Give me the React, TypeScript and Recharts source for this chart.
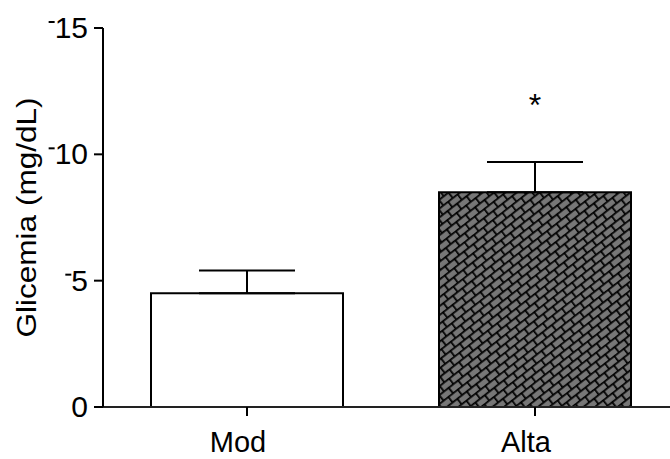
import { BarChart, Bar, XAxis, YAxis, ErrorBar, LabelList, Cell } from 'recharts'

const categories = ['Mod', 'Alta']
const means = [4.5, 8.5]
const sem = [0.9, 1.2]
const marks = ['', '*']
const yTicks = [0, 5, 10, 15]

const FONT = '"Liberation Sans", Arial, Helvetica, sans-serif'
const TICK_FS = 30

const data = categories.map((name, i) => ({
  name,
  value: means[i],
  err: [0, sem[i]],
  sig: marks[i],
}))

// GraphPad-style tick label with the little dash in front of it
function YTick({ x, y, payload }: any) {
  const label = String(payload.value)
  const end = x - 4
  const textW = label.length * 0.556 * TICK_FS
  return (
    <g>
      <text
        x={end}
        y={y + 10}
        textAnchor="end"
        style={{ fontSize: TICK_FS, fontFamily: FONT }}
        fill="#000"
      >
        {label}
      </text>
      {payload.value !== 0 && (
        <line x1={end - textW - 6} x2={end - textW} y1={y - 6} y2={y - 6} stroke="#000" strokeWidth={2} />
      )}
    </g>
  )
}

function XTick({ x, y, payload }: any) {
  return (
    <text x={x - 9} y={y + 34} textAnchor="middle" style={{ fontSize: 29, fontFamily: FONT }} fill="#000">
      {payload.value}
    </text>
  )
}

function YLabel({ viewBox }: any) {
  const cy = viewBox.y + viewBox.height / 2
  const cx = 27
  return (
    <text
      x={cx}
      y={cy}
      transform={`rotate(-90, ${cx}, ${cy})`}
      textAnchor="middle"
      dominantBaseline="central"
      style={{ fontSize: 27, fontFamily: FONT }}
      fill="#000"
      textLength={240}
      lengthAdjust="spacingAndGlyphs"
    >
      Glicemia (mg/dL)
    </text>
  )
}

function SigMark({ x, y, width, value }: any) {
  if (!value) return null
  return (
    <text x={x + width / 2} y={y - 76} textAnchor="middle" style={{ fontSize: 32, fontFamily: FONT }} fill="#000">
      {value}
    </text>
  )
}

export default function App() {
  return (
    <div style={{ position: 'absolute', left: 0, top: 0, width: 670, height: 459, overflow: 'hidden', background: '#fff' }}>
      <BarChart
        width={679}
        height={459}
        data={data}
        margin={{ top: 28, right: 0, left: 0, bottom: 0 }}
        barCategoryGap={48}
      >
        <defs>
          <pattern id="brick" width="12" height="14" patternUnits="userSpaceOnUse" patternTransform="rotate(-38)">
            <rect width="12" height="14" fill="#777" />
            <line x1="0" y1="0.8" x2="12" y2="0.8" stroke="#000" strokeWidth="1.8" />
            <line x1="0" y1="7.8" x2="12" y2="7.8" stroke="#000" strokeWidth="1.8" />
            <line x1="0.8" y1="0" x2="0.8" y2="7" stroke="#000" strokeWidth="1.8" />
            <line x1="6.8" y1="7" x2="6.8" y2="14" stroke="#000" strokeWidth="1.8" />
          </pattern>
        </defs>
        <XAxis
          dataKey="name"
          height={52}
          tick={<XTick />}
          tickSize={9}
          axisLine={{ stroke: '#222', strokeWidth: 2 }}
          tickLine={{ stroke: '#000', strokeWidth: 2 }}
        />
        <YAxis
          width={103}
          domain={[0, 15]}
          ticks={yTicks}
          tick={<YTick />}
          tickSize={9}
          axisLine={{ stroke: '#000', strokeWidth: 2 }}
          tickLine={{ stroke: '#000', strokeWidth: 2 }}
          label={<YLabel />}
        />
        <Bar dataKey="value" stroke="#000" strokeWidth={2} isAnimationActive={false}>
          {data.map((d, i) => (
            <Cell key={d.name} fill={i === 0 ? '#fff' : 'url(#brick)'} />
          ))}
          <ErrorBar dataKey="err" width={48} stroke="#000" strokeWidth={2} direction="y" isAnimationActive={false} />
          <LabelList dataKey="sig" content={<SigMark />} />
        </Bar>
      </BarChart>
    </div>
  )
}
